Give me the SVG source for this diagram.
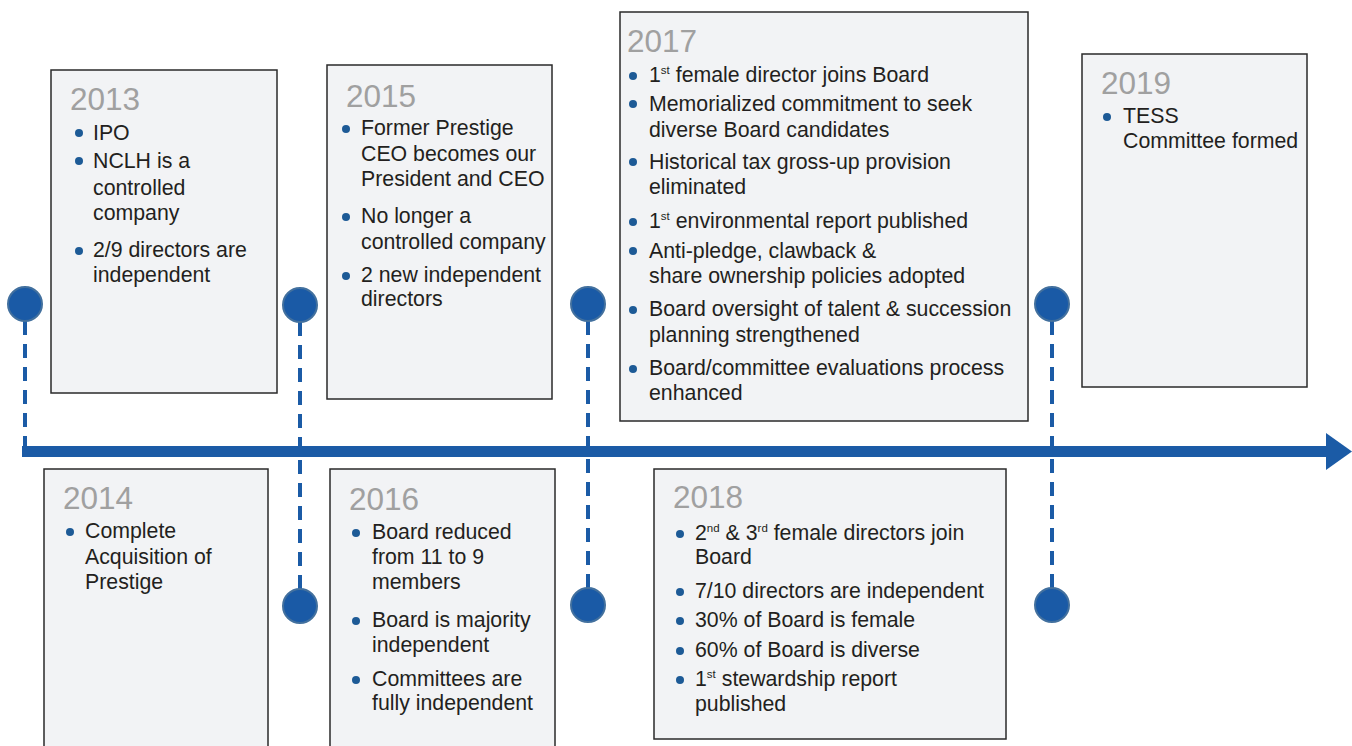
<svg xmlns="http://www.w3.org/2000/svg" width="1352" height="746" viewBox="0 0 1352 746">
<style>
.box{fill:#f2f3f5;stroke:#2a2a2a;stroke-width:1.5}
.yr{font-family:"Liberation Sans",Arial,sans-serif;font-size:31.5px;fill:#a0a0a0}
.t{font-family:"Liberation Sans",Arial,sans-serif;font-size:21.3px;fill:#231f20}
.b{fill:#1d5a96}
.dash{stroke:#1b5ba6;stroke-width:4;stroke-dasharray:14 9;fill:none}
.dot{fill:#1a5aa6;stroke:#42709e;stroke-width:2}
.sup{font-size:11.5px}
</style>
<rect width="1352" height="746" fill="#ffffff"/>
<g id="connectors">
<line class="dash" x1="25" y1="321" x2="25" y2="448"/>
<line class="dash" x1="300" y1="322" x2="300" y2="590"/>
<line class="dash" x1="588" y1="321" x2="588" y2="589"/>
<line class="dash" x1="1052" y1="321" x2="1052" y2="589"/>
<rect x="22" y="446" width="1306" height="11" fill="#1b5ba6"/>
<polygon points="1326,433 1352,451.5 1326,470" fill="#1b5ba6"/>
</g>
<g id="markers">
<circle class="dot" cx="25" cy="304" r="17"/>
<circle class="dot" cx="300" cy="305" r="17"/>
<circle class="dot" cx="300" cy="606" r="17"/>
<circle class="dot" cx="588" cy="304" r="17"/>
<circle class="dot" cx="588" cy="605" r="17"/>
<circle class="dot" cx="1052" cy="304" r="17"/>
<circle class="dot" cx="1052" cy="605" r="17"/>
</g>
<g id="y2013">
<rect class="box" x="51" y="70" width="226" height="323"/>
<text class="yr" x="70" y="110">2013</text>
<circle class="b" cx="79" cy="133" r="4"/>
<circle class="b" cx="79" cy="161" r="4"/>
<circle class="b" cx="79" cy="251" r="4"/>
<text class="t" x="93" y="140">IPO</text>
<text class="t" x="93" y="168">NCLH is a</text>
<text class="t" x="93" y="195">controlled</text>
<text class="t" x="93" y="220">company</text>
<text class="t" x="93" y="257">2/9 directors are</text>
<text class="t" x="93" y="282">independent</text>
</g>
<g id="y2015">
<rect class="box" x="327" y="65" width="225" height="334"/>
<text class="yr" x="346" y="107">2015</text>
<circle class="b" cx="346" cy="129" r="4"/>
<circle class="b" cx="346" cy="217" r="4"/>
<circle class="b" cx="346" cy="276" r="4"/>
<text class="t" x="361" y="135">Former Prestige</text>
<text class="t" x="361" y="161">CEO becomes our</text>
<text class="t" x="361" y="186">President and CEO</text>
<text class="t" x="361" y="223">No longer a</text>
<text class="t" x="361" y="249">controlled company</text>
<text class="t" x="361" y="282">2 new independent</text>
<text class="t" x="361" y="306">directors</text>
</g>
<g id="y2017">
<rect class="box" x="620" y="12" width="408" height="409"/>
<text class="yr" x="627" y="52">2017</text>
<circle class="b" cx="633" cy="76" r="4"/>
<circle class="b" cx="633" cy="104" r="4"/>
<circle class="b" cx="633" cy="162" r="4"/>
<circle class="b" cx="633" cy="222" r="4"/>
<circle class="b" cx="633" cy="251" r="4"/>
<circle class="b" cx="633" cy="310" r="4"/>
<circle class="b" cx="633" cy="369" r="4"/>
<text class="t" x="649" y="82">1<tspan class="sup" dy="-8">st</tspan><tspan dy="8"> female director joins Board</tspan></text>
<text class="t" x="649" y="111">Memorialized commitment to seek</text>
<text class="t" x="649" y="137">diverse Board candidates</text>
<text class="t" x="649" y="169">Historical tax gross-up provision</text>
<text class="t" x="649" y="194">eliminated</text>
<text class="t" x="649" y="228">1<tspan class="sup" dy="-8">st</tspan><tspan dy="8"> environmental report published</tspan></text>
<text class="t" x="649" y="258">Anti-pledge, clawback &amp;</text>
<text class="t" x="649" y="283">share ownership policies adopted</text>
<text class="t" x="649" y="316">Board oversight of talent &amp; succession</text>
<text class="t" x="649" y="342">planning strengthened</text>
<text class="t" x="649" y="375">Board/committee evaluations process</text>
<text class="t" x="649" y="400">enhanced</text>
</g>
<g id="y2019">
<rect class="box" x="1082" y="54" width="225" height="333"/>
<text class="yr" x="1101" y="94">2019</text>
<circle class="b" cx="1107" cy="117" r="4"/>
<text class="t" x="1123" y="123">TESS</text>
<text class="t" x="1123" y="148">Committee formed</text>
</g>
<g id="y2014">
<rect class="box" x="44" y="469" width="224" height="290"/>
<text class="yr" x="63" y="509">2014</text>
<circle class="b" cx="70" cy="532" r="4"/>
<text class="t" x="85" y="538">Complete</text>
<text class="t" x="85" y="564">Acquisition of</text>
<text class="t" x="85" y="589">Prestige</text>
</g>
<g id="y2016">
<rect class="box" x="330" y="469" width="225" height="290"/>
<text class="yr" x="349" y="510">2016</text>
<circle class="b" cx="356" cy="533" r="4"/>
<circle class="b" cx="356" cy="621" r="4"/>
<circle class="b" cx="356" cy="680" r="4"/>
<text class="t" x="372" y="539">Board reduced</text>
<text class="t" x="372" y="564">from 11 to 9</text>
<text class="t" x="372" y="589">members</text>
<text class="t" x="372" y="627">Board is majority</text>
<text class="t" x="372" y="652">independent</text>
<text class="t" x="372" y="686">Committees are</text>
<text class="t" x="372" y="710">fully independent</text>
</g>
<g id="y2018">
<rect class="box" x="654" y="469" width="352" height="270"/>
<text class="yr" x="673" y="508">2018</text>
<circle class="b" cx="680" cy="534" r="4"/>
<circle class="b" cx="680" cy="592" r="4"/>
<circle class="b" cx="680" cy="621" r="4"/>
<circle class="b" cx="680" cy="651" r="4"/>
<circle class="b" cx="680" cy="680" r="4"/>
<text class="t" x="695" y="540">2<tspan class="sup" dy="-8">nd</tspan><tspan dy="8"> &amp; 3</tspan><tspan class="sup" dy="-8">rd</tspan><tspan dy="8"> female directors join</tspan></text>
<text class="t" x="695" y="564">Board</text>
<text class="t" x="695" y="598">7/10 directors are independent</text>
<text class="t" x="695" y="627">30% of Board is female</text>
<text class="t" x="695" y="657">60% of Board is diverse</text>
<text class="t" x="695" y="686">1<tspan class="sup" dy="-8">st</tspan><tspan dy="8"> stewardship report</tspan></text>
<text class="t" x="695" y="711">published</text>
</g>
</svg>
